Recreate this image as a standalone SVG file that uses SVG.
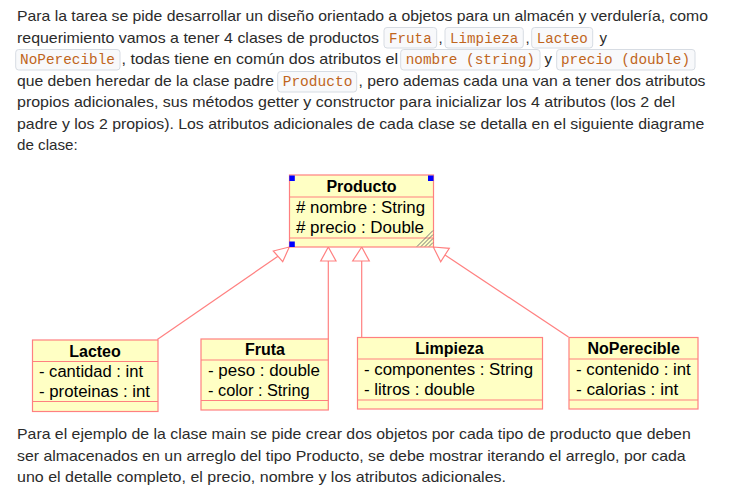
<svg xmlns="http://www.w3.org/2000/svg" width="730" height="502" viewBox="0 0 730 502">
<style>
.p{font-family:"Liberation Sans",Arial,sans-serif;font-size:15px;fill:#2b2b2b}
.c{font-family:"Liberation Mono","DejaVu Sans Mono",monospace;font-size:14.2px;fill:#c0651c}
.cb{fill:#f8f9fb;stroke:#d7dce3;stroke-width:1}
.box{fill:#ffffc4;stroke:#ff8080;stroke-width:1.2}
.div{stroke:#ff8080;stroke-width:1.2;fill:none}
.t{font-family:"Liberation Sans",Arial,sans-serif;font-size:16px;font-weight:bold;fill:#000;text-anchor:middle}
.a{font-family:"Liberation Sans",Arial,sans-serif;font-size:16px;fill:#000}
.con{stroke:#ff8080;stroke-width:1.2;fill:none}
.tri{fill:#fff;stroke:#ff8080;stroke-width:1.2}
.h{fill:#0000ff}
.hat{stroke:#777;stroke-width:1}
</style>
<rect width="730" height="502" fill="#fff"/>
<g id="text-top">
<text class="p" x="17" y="21" textLength="691" lengthAdjust="spacingAndGlyphs">Para la tarea se pide desarrollar un diseño orientado a objetos para un almacén y verdulería, como</text>
<text class="p" x="17" y="42.5" textLength="362" lengthAdjust="spacingAndGlyphs">requerimiento vamos a tener 4 clases de productos</text>
<rect class="cb" x="384" y="27.5" width="52.7" height="20.5" rx="3"/>
<text class="c" x="389" y="42.5" textLength="42.7" lengthAdjust="spacingAndGlyphs">Fruta</text>
<text class="p" x="438.5" y="42.5">,</text>
<rect class="cb" x="445" y="27.5" width="78.3" height="20.5" rx="3"/>
<text class="c" x="450" y="42.5" textLength="68.3" lengthAdjust="spacingAndGlyphs">Limpieza</text>
<text class="p" x="525.5" y="42.5">,</text>
<rect class="cb" x="531.7" y="27.5" width="61" height="20.5" rx="3"/>
<text class="c" x="536.7" y="42.5" textLength="51" lengthAdjust="spacingAndGlyphs">Lacteo</text>
<text class="p" x="599.5" y="42.5">y</text>
<rect class="cb" x="15.7" y="49.5" width="104.3" height="20.5" rx="3"/>
<text class="c" x="20" y="64" textLength="95" lengthAdjust="spacingAndGlyphs">NoPerecible</text>
<text class="p" x="121.5" y="64" textLength="276.5" lengthAdjust="spacingAndGlyphs">, todas tiene en común dos atributos el</text>
<rect class="cb" x="400.7" y="49.5" width="139.3" height="20.5" rx="3"/>
<text class="c" x="405.7" y="64" textLength="129.3" lengthAdjust="spacingAndGlyphs">nombre (string)</text>
<text class="p" x="544.5" y="64">y</text>
<rect class="cb" x="556.7" y="49.5" width="138.3" height="20.5" rx="3"/>
<text class="c" x="561" y="64" textLength="129" lengthAdjust="spacingAndGlyphs">precio (double)</text>
<text class="p" x="17" y="85.5" textLength="257" lengthAdjust="spacingAndGlyphs">que deben heredar de la clase padre</text>
<rect class="cb" x="277.7" y="71.5" width="79" height="20.5" rx="3"/>
<text class="c" x="282.7" y="85.5" textLength="69.7" lengthAdjust="spacingAndGlyphs">Producto</text>
<text class="p" x="358.5" y="85.5" textLength="347" lengthAdjust="spacingAndGlyphs">, pero ademas cada una van a tener dos atributos</text>
<text class="p" x="17" y="107" textLength="658" lengthAdjust="spacingAndGlyphs">propios adicionales, sus métodos getter y constructor para inicializar los 4 atributos (los 2 del</text>
<text class="p" x="17" y="128.5" textLength="687.3" lengthAdjust="spacingAndGlyphs">padre y los 2 propios). Los atributos adicionales de cada clase se detalla en el siguiente diagrame</text>
<text class="p" x="17" y="150" textLength="60.7" lengthAdjust="spacingAndGlyphs">de clase:</text>
</g>
<g id="connectors">
<line class="con" x1="157.3" y1="339.5" x2="278" y2="256.3"/>
<polygon class="tri" points="289.3,247 273.3,251 282.7,261.7"/>
<line class="con" x1="328.3" y1="339" x2="328.3" y2="261"/>
<polygon class="tri" points="328.3,247 320.7,261 336,261"/>
<line class="con" x1="361.7" y1="337.5" x2="361.7" y2="261"/>
<polygon class="tri" points="361.7,247 352.7,261 369.3,261"/>
<line class="con" x1="568.5" y1="337" x2="445" y2="255"/>
<polygon class="tri" points="433.3,247 449.3,248.3 440.7,261.7"/>
</g>
<g id="Producto">
<rect class="box" x="289.5" y="175" width="144" height="72"/>
<line class="div" x1="289.5" y1="197" x2="433.5" y2="197"/>
<line class="div" x1="289.5" y1="238" x2="433.5" y2="238"/>
<text class="t" x="361.5" y="191.5">Producto</text>
<text class="a" x="296" y="212.5" textLength="129" lengthAdjust="spacingAndGlyphs"># nombre : String</text>
<text class="a" x="296" y="233" textLength="128" lengthAdjust="spacingAndGlyphs"># precio : Double</text>
<line class="hat" x1="417" y1="246.5" x2="433" y2="230.5"/>
<line class="hat" x1="421" y1="246.5" x2="433" y2="234.5"/>
<line class="hat" x1="425" y1="246.5" x2="433" y2="238.5"/>
<line class="hat" x1="429" y1="246.5" x2="433" y2="242.5"/>
<rect class="h" x="289.3" y="175.5" width="5.5" height="5.5"/>
<rect class="h" x="428" y="175.5" width="5.5" height="5.5"/>
<rect class="h" x="289.3" y="241.5" width="5.5" height="5.5"/>
</g>
<g id="Lacteo">
<rect class="box" x="32.5" y="340" width="125.5" height="71.5"/>
<line class="div" x1="32.5" y1="361.5" x2="158" y2="361.5"/>
<line class="div" x1="32.5" y1="401.5" x2="158" y2="401.5"/>
<text class="t" x="95" y="356.5">Lacteo</text>
<text class="a" x="39" y="377" textLength="104" lengthAdjust="spacingAndGlyphs">- cantidad : int</text>
<text class="a" x="39" y="397" textLength="111" lengthAdjust="spacingAndGlyphs">- proteinas : int</text>
</g>
<g id="Fruta">
<rect class="box" x="201" y="339" width="127.3" height="71"/>
<line class="div" x1="201" y1="360" x2="328.3" y2="360"/>
<line class="div" x1="201" y1="400.5" x2="328.3" y2="400.5"/>
<text class="t" x="265" y="355">Fruta</text>
<text class="a" x="208" y="375.5" textLength="112" lengthAdjust="spacingAndGlyphs">- peso : double</text>
<text class="a" x="208" y="396" textLength="101.6" lengthAdjust="spacingAndGlyphs">- color : String</text>
</g>
<g id="Limpieza">
<rect class="box" x="357.5" y="337.5" width="185" height="71.5"/>
<line class="div" x1="357.5" y1="359" x2="542.5" y2="359"/>
<line class="div" x1="357.5" y1="400" x2="542.5" y2="400"/>
<text class="t" x="449.5" y="353.5">Limpieza</text>
<text class="a" x="364" y="375" textLength="169" lengthAdjust="spacingAndGlyphs">- componentes : String</text>
<text class="a" x="364" y="395" textLength="111" lengthAdjust="spacingAndGlyphs">- litros : double</text>
</g>
<g id="NoPerecible">
<rect class="box" x="569" y="337.5" width="129" height="71.5"/>
<line class="div" x1="569" y1="359" x2="698" y2="359"/>
<line class="div" x1="569" y1="400" x2="698" y2="400"/>
<text class="t" x="633.7" y="353.5">NoPerecible</text>
<text class="a" x="576" y="375" textLength="114.7" lengthAdjust="spacingAndGlyphs">- contenido : int</text>
<text class="a" x="576" y="395" textLength="102.3" lengthAdjust="spacingAndGlyphs">- calorias : int</text>
</g>
<g id="text-bottom">
<text class="p" x="17" y="439" textLength="673.7" lengthAdjust="spacingAndGlyphs">Para el ejemplo de la clase main se pide crear dos objetos por cada tipo de producto que deben</text>
<text class="p" x="17" y="460.7" textLength="668.7" lengthAdjust="spacingAndGlyphs">ser almacenados en un arreglo del tipo Producto, se debe mostrar iterando el arreglo, por cada</text>
<text class="p" x="17" y="482" textLength="489" lengthAdjust="spacingAndGlyphs">uno el detalle completo, el precio, nombre y los atributos adicionales.</text>
</g>
</svg>
